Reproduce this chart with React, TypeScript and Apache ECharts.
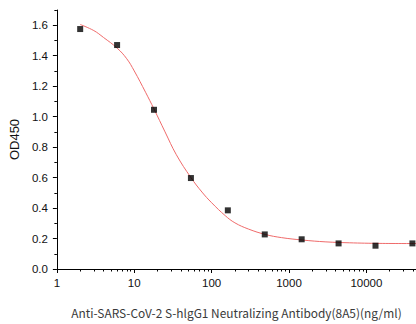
import React, { useEffect, useRef } from "react";
import * as echarts from "echarts";

const concentrations = [2, 6, 18, 54, 162, 486, 1458, 4374, 13122, 39366];
const od450 = [1.575, 1.47, 1.045, 0.597, 0.385, 0.227, 0.195, 0.168, 0.153, 0.168];

const fitX = [2, 3, 4, 6, 8, 10, 14, 18, 25, 35, 54, 75, 100, 150, 200, 300, 500, 800, 1500, 3000, 6000, 15000, 45000];
const fitY = [1.605, 1.565, 1.52, 1.45, 1.38, 1.3, 1.16, 1.05, 0.9, 0.75, 0.6, 0.505, 0.435, 0.35, 0.303, 0.262, 0.226, 0.206, 0.19, 0.178, 0.172, 0.168, 0.167];

const xMajorTicks = [1, 10, 100, 1000, 10000];
const xMinorTicks = [
  2, 3, 4, 5, 6, 7, 8, 9,
  20, 30, 40, 50, 60, 70, 80, 90,
  200, 300, 400, 500, 600, 700, 800, 900,
  2000, 3000, 4000, 5000, 6000, 7000, 8000, 9000,
  20000, 30000, 40000,
];
const yMajorTicks = [0, 0.2, 0.4, 0.6, 0.8, 1.0, 1.2, 1.4, 1.6];
const yMinorTicks = [0.1, 0.3, 0.5, 0.7, 0.9, 1.1, 1.3, 1.5, 1.7];

const X_MIN = 1;
const X_MAX = 43800;
const Y_MIN = 0;
const Y_MAX = 1.7;

const xTitle = "Anti-SARS-CoV-2 S-hlgG1 Neutralizing Antibody(8A5)(ng/ml)";
const yTitle = "OD450";

export default function App() {
  const ref = useRef<HTMLDivElement>(null);
  useEffect(() => {
    if (!ref.current) return;
    const chart = echarts.init(ref.current, null, { renderer: "svg" });
    const axisLine = { show: true, lineStyle: { color: "#000", width: 1 } };
    const labelFont = { fontFamily: "Liberation Sans, Arial", fontSize: 11.5, color: "#111" };
    chart.setOption({
      animation: false,
      backgroundColor: "#fff",
      grid: { left: 50.5, right: 0, top: 10, bottom: 55, containLabel: false },
      xAxis: [
        {
          type: "log",
          logBase: 10,
          min: X_MIN,
          max: X_MAX,
          position: "bottom",
          axisLine,
          axisTick: { show: true, inside: false, length: 4, customValues: xMajorTicks, lineStyle: { color: "#000" } },
          axisLabel: {
            show: true,
            margin: 8,
            customValues: xMajorTicks,
            formatter: (v: number) => String(Math.round(v)),
            ...labelFont,
          },
          splitLine: { show: false },
          name: xTitle,
          nameLocation: "middle",
          nameGap: 38,
          nameTextStyle: { fontFamily: "Noto Sans CJK SC", fontSize: 11.9, color: "#3a3a3a" },
        },
        {
          type: "log",
          logBase: 10,
          min: X_MIN,
          max: X_MAX,
          position: "bottom",
          axisLine: { show: false },
          axisTick: { show: true, inside: false, length: 2.5, customValues: xMinorTicks, lineStyle: { color: "#000" } },
          axisLabel: { show: false },
          splitLine: { show: false },
        },
      ],
      yAxis: [
        {
          type: "value",
          min: Y_MIN,
          max: Y_MAX,
          position: "left",
          axisLine,
          axisTick: { show: true, inside: false, length: 4, customValues: yMajorTicks, lineStyle: { color: "#000" } },
          axisLabel: {
            show: true,
            margin: 9,
            customValues: yMajorTicks,
            formatter: (v: number) => v.toFixed(1),
            ...labelFont,
          },
          splitLine: { show: false },
          name: yTitle,
          nameLocation: "middle",
          nameGap: 32,
          nameRotate: 90,
          nameTextStyle: { fontFamily: "Liberation Sans, Arial", fontSize: 13, color: "#111" },
        },
        {
          type: "value",
          min: Y_MIN,
          max: Y_MAX,
          position: "left",
          axisLine: { show: false },
          axisTick: { show: true, inside: false, length: 2.5, customValues: yMinorTicks, lineStyle: { color: "#000" } },
          axisLabel: { show: false },
          splitLine: { show: false },
        },
      ],
      series: [
        {
          type: "line",
          xAxisIndex: 0,
          yAxisIndex: 0,
          data: fitX.map((x, i) => [x, fitY[i]]),
          smooth: 0.4,
          showSymbol: false,
          symbol: "none",
          lineStyle: { color: "#ef6b6b", width: 1 },
          z: 2,
        },
        {
          type: "scatter",
          xAxisIndex: 0,
          yAxisIndex: 0,
          data: concentrations.map((x, i) => [x, od450[i]]),
          symbol: "rect",
          symbolSize: 6,
          itemStyle: { color: "#000" },
          z: 3,
        },
      ],
    });
    return () => chart.dispose();
  }, []);
  return (
    <div
      ref={ref}
      style={{ position: "absolute", left: 0, top: 0, width: 416, height: 324 }}
    />
  );
}
